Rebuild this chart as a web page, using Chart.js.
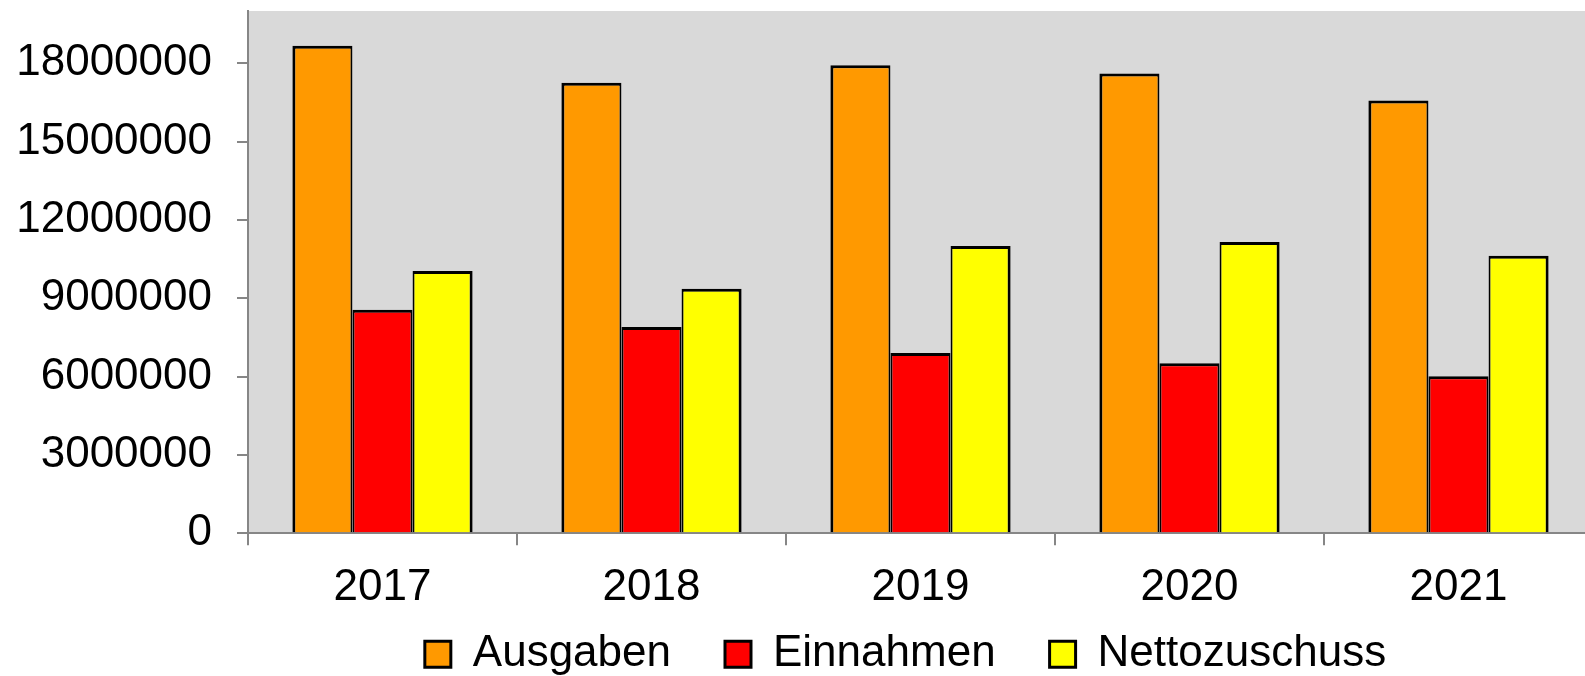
<!DOCTYPE html>
<html><head><meta charset="utf-8">
<script src="https://cdn.jsdelivr.net/npm/chart.js@4"></script>
<style>
html,body{margin:0;padding:0;background:#fff;overflow:hidden;width:1585px;height:676px}
#wrap{position:relative;width:1593px;height:676px}
</style>
</head><body><div id="wrap"><canvas id="c"></canvas></div>
<script>
const categories = ['2017', '2018', '2019', '2020', '2021'];
const ausgaben = [18670000, 17250000, 17920000, 17610000, 16570000];
const einnahmen = [8560000, 7900000, 6900000, 6510000, 6010000];
const nettozuschuss = [10040000, 9360000, 11000000, 11150000, 10630000];
const seriesNames = ['Ausgaben', 'Einnahmen', 'Nettozuschuss'];
const seriesColors = ['#FF9900', '#FF0000', '#FFFF00'];
const yTicks = [0, 3000000, 6000000, 9000000, 12000000, 15000000, 18000000];
const yAxisMax = 20000000;

Chart.defaults.font.family = '"Liberation Sans", Arial, sans-serif';
Chart.defaults.font.size = 44;
Chart.defaults.color = '#000';

const barBorders = [
  {top: 3, left: 3, right: 2, bottom: 0},
  {top: 3, left: 2, right: 2, bottom: 0},
  {top: 3, left: 2, right: 3, bottom: 0}
];

const plotBg = {
  id: 'plotBg',
  beforeDraw(chart) {
    const {ctx, chartArea: a} = chart;
    ctx.save();
    ctx.fillStyle = '#D9D9D9';
    ctx.fillRect(a.left, a.top, a.right - a.left, a.bottom - a.top);
    ctx.restore();
  }
};
const legendPlace = {
  id: 'legendPlace',
  afterLayout(chart) {
    const lg = chart.legend, a = chart.chartArea;
    lg.left = a.left - 15;
    lg.right = a.right - 15;
    lg.top = a.bottom + 45;
    lg.bottom = chart.height;
  }
};

const allSeries = [ausgaben, einnahmen, nettozuschuss];
new Chart(document.getElementById('c'), {
  type: 'bar',
  data: {
    labels: categories,
    datasets: allSeries.map((d, i) => ({
      label: seriesNames[i],
      data: d,
      backgroundColor: seriesColors[i],
      borderColor: '#000',
      borderWidth: barBorders[i],
      barPercentage: 1,
      categoryPercentage: 0.67
    }))
  },
  options: {
    responsive: true,
    maintainAspectRatio: false,
    animation: false,
    layout: {autoPadding: false, padding: {left: 14, top: 11, right: 0, bottom: 44}},
    plugins: {
      tooltip: {enabled: false},
      legend: {
        position: 'bottom',
        maxHeight: 2,
        labels: {
          boxWidth: 26, boxHeight: 26, padding: 54, font: {size: 44},
          generateLabels(chart) {
            return Chart.defaults.plugins.legend.labels.generateLabels(chart).map(l => Object.assign(l, {lineWidth: 3}));
          }
        }
      }
    },
    scales: {
      x: {
        afterFit(s) { s.paddingLeft = 0; s.paddingRight = 0; },
        grid: {display: true, drawOnChartArea: false, drawTicks: true, tickLength: 12, color: '#868686', lineWidth: 2, offset: true},
        border: {display: true, color: '#868686', width: 2},
        ticks: {padding: 16, font: {size: 44}}
      },
      y: {
        min: 0,
        max: yAxisMax,
        afterBuildTicks(scale) { scale.ticks = yTicks.map(v => ({value: v})); },
        afterFit(s) { s.width = 234; s.paddingTop = 0; s.paddingBottom = 0; },
        grid: {display: true, drawOnChartArea: false, drawTicks: true, tickLength: 11, color: '#868686', lineWidth: 2},
        border: {display: true, color: '#868686', width: 2},
        ticks: {padding: 25, font: {size: 44}, callback: v => String(v)}
      }
    }
  },
  plugins: [plotBg, legendPlace]
});
</script>
</body></html>
